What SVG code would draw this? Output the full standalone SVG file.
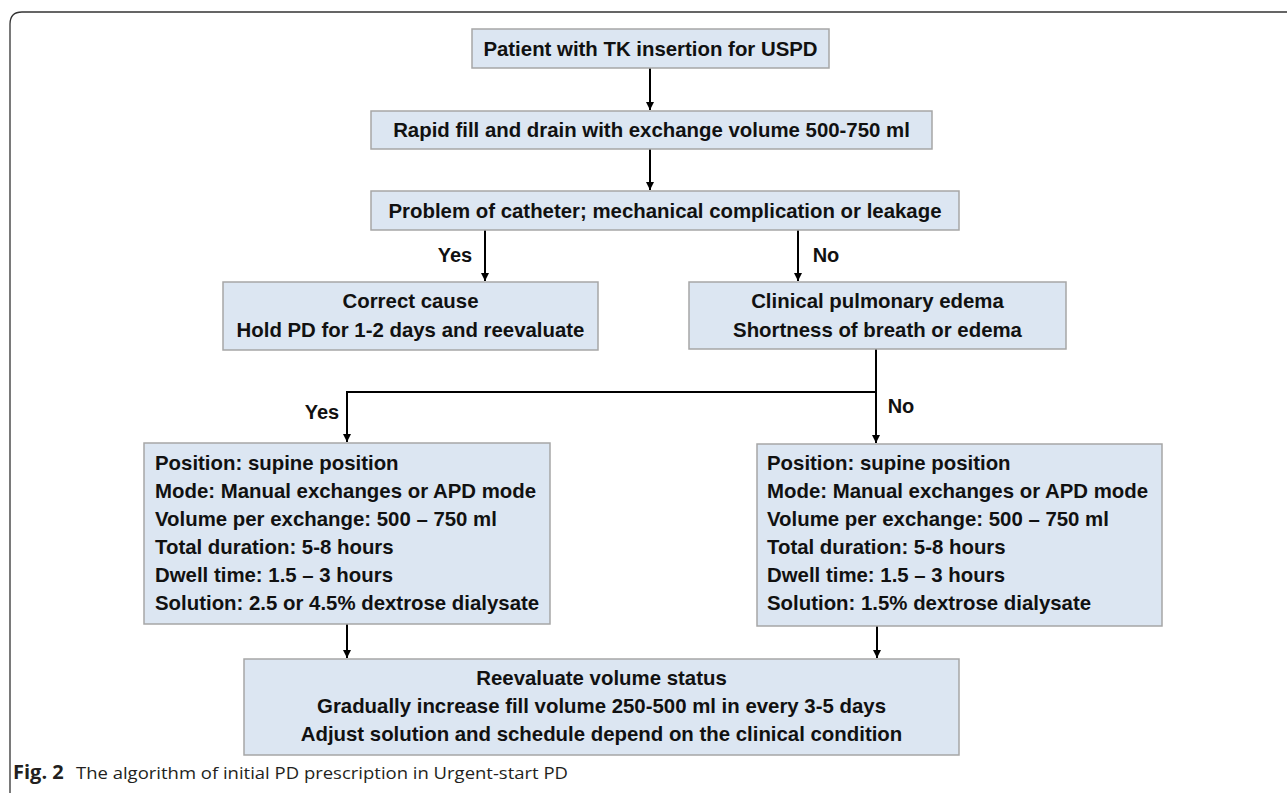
<svg xmlns="http://www.w3.org/2000/svg" width="1287" height="793" viewBox="0 0 1287 793">
  <style>
    .box { fill: #dce6f2; stroke: #a6a6a6; stroke-width: 1.5; }
    .t { font-family: "Liberation Sans", Arial, sans-serif; font-weight: bold; font-size: 20.4px; fill: #111; }
    .c { text-anchor: middle; }
    .lbl { font-family: "Liberation Sans", Arial, sans-serif; font-weight: bold; font-size: 20px; fill: #111; text-anchor: middle; }
    .edge { fill: none; stroke: #000; stroke-width: 2; }
    .cap { font-family: "Open Sans", "Liberation Sans", sans-serif; font-size: 17px; fill: #231f20; }
    .capb { font-family: "Open Sans", "Liberation Sans", sans-serif; font-size: 20px; font-weight: bold; fill: #231f20; }
  </style>
  <defs>
    <marker id="arrd" viewBox="0 0 8 9" refX="8" refY="4" markerWidth="8" markerHeight="9" markerUnits="userSpaceOnUse" orient="auto">
      <path d="M0,0 L8,4 L0,8 Z" fill="#000"/>
    </marker>
  </defs>

  <!-- frame -->
  <path d="M10,793 L10,24 Q10,12 22,12 L1287,12" fill="none" stroke="#333" stroke-width="1.3"/>

  <g id="connectors">
    <path class="edge" d="M650,68 L650,110" marker-end="url(#arrd)"/>
    <path class="edge" d="M650,149 L650,190" marker-end="url(#arrd)"/>
    <path class="edge" d="M485,230 L485,281" marker-end="url(#arrd)"/>
    <path class="edge" d="M798,230 L798,281" marker-end="url(#arrd)"/>
    <path class="edge" d="M876,349 L876,443" marker-end="url(#arrd)"/>
    <path class="edge" d="M876,392 L347,392 L347,442" marker-end="url(#arrd)"/>
    <path class="edge" d="M347,624 L347,658" marker-end="url(#arrd)"/>
    <path class="edge" d="M877,626 L877,658" marker-end="url(#arrd)"/>
    <text class="lbl" x="455" y="262">Yes</text>
    <text class="lbl" x="826" y="262">No</text>
    <text class="lbl" x="322" y="419">Yes</text>
    <text class="lbl" x="901" y="413">No</text>
  </g>

  <g id="n1">
    <rect class="box" x="472" y="29" width="357" height="39"/>
    <text class="t c" x="650.5" y="55.5">Patient with TK insertion for USPD</text>
  </g>
  <g id="n2">
    <rect class="box" x="371" y="111" width="561" height="38"/>
    <text class="t c" x="651.5" y="137">Rapid fill and drain with exchange volume 500-750 ml</text>
  </g>
  <g id="n3">
    <rect class="box" x="371" y="191" width="588" height="39"/>
    <text class="t c" x="665" y="218">Problem of catheter; mechanical complication or leakage</text>
  </g>
  <g id="n4">
    <rect class="box" x="223" y="282" width="375" height="68"/>
    <text class="t c" x="410.5" y="308">Correct cause</text>
    <text class="t c" x="410.5" y="337">Hold PD for 1-2 days and reevaluate</text>
  </g>
  <g id="n5">
    <rect class="box" x="689" y="282" width="377" height="67"/>
    <text class="t c" x="877.5" y="308">Clinical pulmonary edema</text>
    <text class="t c" x="877.5" y="337">Shortness of breath or edema</text>
  </g>
  <g id="n6">
    <rect class="box" x="144" y="443" width="406" height="181"/>
    <text class="t" x="155" y="470">Position: supine position</text>
    <text class="t" x="155" y="498">Mode: Manual exchanges or APD mode</text>
    <text class="t" x="155" y="526">Volume per exchange: 500 – 750 ml</text>
    <text class="t" x="155" y="554">Total duration: 5-8 hours</text>
    <text class="t" x="155" y="582">Dwell time: 1.5 – 3 hours</text>
    <text class="t" x="155" y="610">Solution: 2.5 or 4.5% dextrose dialysate</text>
  </g>
  <g id="n7">
    <rect class="box" x="757" y="444" width="405" height="182"/>
    <text class="t" x="767" y="470">Position: supine position</text>
    <text class="t" x="767" y="498">Mode: Manual exchanges or APD mode</text>
    <text class="t" x="767" y="526">Volume per exchange: 500 – 750 ml</text>
    <text class="t" x="767" y="554">Total duration: 5-8 hours</text>
    <text class="t" x="767" y="582">Dwell time: 1.5 – 3 hours</text>
    <text class="t" x="767" y="610">Solution: 1.5% dextrose dialysate</text>
  </g>
  <g id="n8">
    <rect class="box" x="244" y="659" width="715" height="96"/>
    <text class="t c" x="601.5" y="685">Reevaluate volume status</text>
    <text class="t c" x="601.5" y="713">Gradually increase fill volume 250-500 ml in every 3-5 days</text>
    <text class="t c" x="601.5" y="741">Adjust solution and schedule depend on the clinical condition</text>
  </g>

  <g id="caption">
    <text class="capb" x="13" y="779">Fig. 2</text>
    <text class="cap" x="76" y="779" textLength="492" lengthAdjust="spacingAndGlyphs">The algorithm of initial PD prescription in Urgent-start PD</text>
  </g>
</svg>
